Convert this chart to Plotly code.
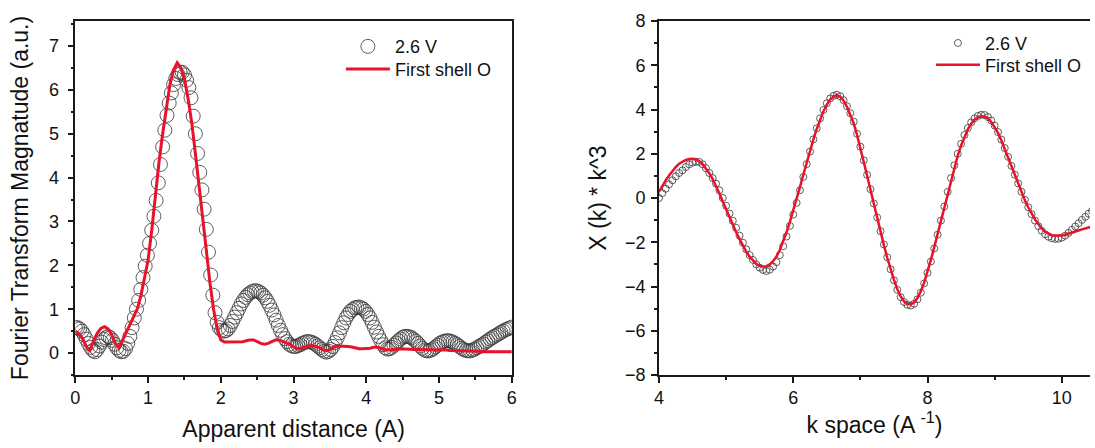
import numpy as np
import plotly.graph_objects as go

# ---------------- R-space (Fourier transform magnitude) ----------------
r_data = np.round(np.arange(201) * 0.03, 2)
ft_data = [
    0.58, 0.58, 0.55, 0.50, 0.42, 0.32, 0.22, 0.13, 0.06, 0.03,
    0.08, 0.16, 0.25, 0.31, 0.35, 0.38, 0.35, 0.29, 0.20, 0.12,
    0.06, 0.03, 0.04, 0.10, 0.22, 0.38, 0.58, 0.80, 1.00, 1.20,
    1.45, 1.72, 1.98, 2.23, 2.50, 2.80, 3.12, 3.48, 3.88, 4.30,
    4.70, 5.08, 5.42, 5.70, 5.93, 6.12, 6.26, 6.35, 6.40, 6.40,
    6.34, 6.22, 6.05, 5.82, 5.40, 5.00, 4.55, 4.12, 3.72, 3.28,
    2.82, 2.30, 1.78, 1.32, 0.92, 0.70, 0.58, 0.52, 0.50, 0.51,
    0.55, 0.63, 0.72, 0.82, 0.92, 1.02, 1.12, 1.20, 1.27, 1.33,
    1.37, 1.40, 1.42, 1.42, 1.40, 1.37, 1.32, 1.26, 1.18, 1.09,
    0.98, 0.87, 0.75, 0.63, 0.52, 0.42, 0.33, 0.26, 0.20, 0.17,
    0.15, 0.15, 0.17, 0.19, 0.22, 0.24, 0.26, 0.26, 0.25, 0.23,
    0.20, 0.16, 0.12, 0.08, 0.04, 0.02, 0.04, 0.08, 0.15, 0.24,
    0.35, 0.46, 0.58, 0.69, 0.80, 0.88, 0.95, 0.99, 1.03, 1.04,
    1.05, 1.03, 1.00, 0.95, 0.88, 0.80, 0.70, 0.59, 0.48, 0.38,
    0.28, 0.19, 0.12, 0.09, 0.10, 0.13, 0.18, 0.23, 0.28, 0.32,
    0.36, 0.38, 0.38, 0.37, 0.35, 0.31, 0.27, 0.22, 0.16, 0.11,
    0.07, 0.05, 0.05, 0.07, 0.10, 0.14, 0.18, 0.22, 0.25, 0.27,
    0.28, 0.28, 0.27, 0.25, 0.22, 0.19, 0.15, 0.11, 0.08, 0.06,
    0.05, 0.05, 0.07, 0.09, 0.12, 0.15, 0.18, 0.21, 0.25, 0.28,
    0.32, 0.35, 0.38, 0.41, 0.44, 0.47, 0.50, 0.53, 0.55, 0.57,
    0.59,
]

r_fit = np.round(np.arange(121) * 0.05, 2)
ft_fit = [
    0.50, 0.44, 0.33, 0.15, 0.06, 0.28, 0.45, 0.56, 0.60, 0.55,
    0.42, 0.22, 0.12, 0.30, 0.50, 0.66, 0.82, 1.00, 1.30, 1.68,
    2.12, 2.80, 3.60, 4.35, 5.00, 5.60, 6.12, 6.45, 6.62, 6.50,
    6.25, 5.80, 5.25, 4.55, 3.85, 3.10, 2.35, 1.60, 1.00, 0.55,
    0.30, 0.25, 0.25, 0.25, 0.26, 0.26, 0.26, 0.28, 0.30, 0.30,
    0.26, 0.22, 0.20, 0.22, 0.26, 0.30, 0.30, 0.27, 0.24, 0.20,
    0.14, 0.10, 0.10, 0.13, 0.16, 0.17, 0.15, 0.13, 0.08, 0.05,
    0.08, 0.14, 0.16, 0.16, 0.15, 0.15, 0.14, 0.12, 0.10, 0.10,
    0.10, 0.11, 0.13, 0.13, 0.11, 0.08, 0.07, 0.08, 0.09, 0.10,
    0.10, 0.09, 0.08, 0.08, 0.08, 0.08, 0.08, 0.07, 0.07, 0.07,
    0.07, 0.07, 0.07, 0.06, 0.05, 0.05, 0.05, 0.05, 0.04, 0.04,
    0.04, 0.04, 0.03, 0.03, 0.03, 0.03, 0.03, 0.03, 0.03, 0.03,
    0.03,
]

# ---------------- k-space (chi(k) * k^3) ----------------
k_grid = np.round(4.0 + np.arange(130) * 0.05, 2)
chi_data = [
    0.00, 0.22, 0.42, 0.62, 0.80, 0.98, 1.13, 1.25, 1.40, 1.52,
    1.60, 1.64, 1.63, 1.52, 1.35, 1.13, 0.90, 0.65, 0.35, 0.00,
    -0.35, -0.70, -1.03, -1.35, -1.70, -2.02, -2.32, -2.58, -2.80, -3.00,
    -3.15, -3.25, -3.30, -3.24, -3.10, -2.90, -2.58, -2.18, -1.74, -1.26,
    -0.75, -0.22, 0.35, 0.95, 1.53, 2.10, 2.65, 3.15, 3.60, 3.98,
    4.28, 4.50, 4.62, 4.67, 4.60, 4.42, 4.15, 3.83, 3.45, 2.90,
    2.32, 1.70, 1.05, 0.40, -0.25, -0.88, -1.50, -2.10, -2.68, -3.22,
    -3.72, -4.15, -4.48, -4.70, -4.83, -4.86, -4.78, -4.58, -4.28, -3.86,
    -3.38, -2.87, -2.28, -1.66, -1.02, -0.38, 0.28, 0.90, 1.48, 2.00,
    2.45, 2.85, 3.16, 3.42, 3.60, 3.71, 3.76, 3.75, 3.66, 3.50,
    3.27, 2.98, 2.64, 2.26, 1.86, 1.45, 1.05, 0.66, 0.28, -0.08,
    -0.42, -0.73, -1.02, -1.27, -1.48, -1.64, -1.75, -1.82, -1.85, -1.84,
    -1.79, -1.70, -1.58, -1.44, -1.29, -1.14, -0.99, -0.85, -0.71, -0.58,
]
chi_fit = [
    0.28, 0.55, 0.80, 1.02, 1.22, 1.40, 1.55, 1.65, 1.72, 1.76,
    1.77, 1.74, 1.66, 1.53, 1.35, 1.12, 0.85, 0.54, 0.20, -0.16,
    -0.52, -0.88, -1.22, -1.55, -1.86, -2.15, -2.42, -2.65, -2.84, -2.98,
    -3.07, -3.10, -3.08, -3.00, -2.86, -2.64, -2.35, -1.98, -1.55, -1.08,
    -0.58, -0.05, 0.50, 1.05, 1.60, 2.14, 2.65, 3.12, 3.55, 3.92,
    4.22, 4.45, 4.60, 4.65, 4.58, 4.40, 4.12, 3.78, 3.38, 2.85,
    2.28, 1.66, 1.02, 0.37, -0.28, -0.92, -1.54, -2.13, -2.70, -3.22,
    -3.70, -4.12, -4.45, -4.67, -4.79, -4.80, -4.72, -4.52, -4.22, -3.82,
    -3.33, -2.80, -2.22, -1.62, -1.00, -0.38, 0.24, 0.84, 1.40, 1.92,
    2.38, 2.78, 3.10, 3.36, 3.54, 3.65, 3.70, 3.69, 3.60, 3.44,
    3.22, 2.94, 2.60, 2.22, 1.82, 1.42, 1.02, 0.62, 0.24, -0.10,
    -0.42, -0.70, -0.96, -1.18, -1.38, -1.52, -1.62, -1.68, -1.70, -1.70,
    -1.69, -1.66, -1.62, -1.57, -1.52, -1.47, -1.42, -1.37, -1.33, -1.29,
]

FONT = "Arial, Liberation Sans, Helvetica, sans-serif"
RED = "rgb(232,18,42)"
CIRCLE = "rgba(55,55,55,0.8)"
W, H = 1095, 448
TOP, BOTTOM = 21, 72.5
PLOT_H = H - TOP - BOTTOM


def row_y(px):
    """Paper y for a pixel row measured from the top of the figure."""
    return 1 - (px - TOP) / PLOT_H


fig = go.Figure()

fig.add_trace(go.Scatter(
    x=r_data, y=ft_data, mode="markers", name="2.6 V",
    marker=dict(symbol="circle-open", size=14, color=CIRCLE, line=dict(width=1)),
    xaxis="x", yaxis="y", legend="legend",
))
fig.add_trace(go.Scatter(
    x=r_fit, y=ft_fit, mode="lines", name="First shell O",
    line=dict(color=RED, width=3),
    xaxis="x", yaxis="y", legend="legend2",
))
fig.add_trace(go.Scatter(
    x=k_grid, y=chi_data, mode="markers", name="2.6 V",
    marker=dict(symbol="circle-open", size=7, color=CIRCLE, line=dict(width=1)),
    xaxis="x2", yaxis="y2", legend="legend3",
))
fig.add_trace(go.Scatter(
    x=k_grid, y=chi_fit, mode="lines", name="First shell O",
    line=dict(color=RED, width=2.5),
    xaxis="x2", yaxis="y2", legend="legend4",
))

axis_common = dict(
    showline=True, linecolor="#1a1a1a", linewidth=1.5,
    ticks="outside", ticklen=6, tickwidth=1.5, tickcolor="#1a1a1a",
    showgrid=False, zeroline=False,
    tickfont=dict(family=FONT, size=18, color="#111"),
)
minor_style = dict(ticks="outside", ticklen=3, tickwidth=1.5, tickcolor="#1a1a1a")
title_font = dict(family=FONT, size=23, color="#111")


def legend_box(x_px, y_px):
    return dict(
        x=x_px / W, y=row_y(y_px), xanchor="left", yanchor="middle",
        bgcolor="rgba(0,0,0,0)", font=dict(family=FONT, size=18, color="#111"),
        itemwidth=44, itemclick=False,
    )


fig.update_layout(
    width=W, height=H,
    margin=dict(l=0, r=0, t=TOP, b=BOTTOM),
    paper_bgcolor="white", plot_bgcolor="white",
    font=dict(family=FONT, color="#111"),
    xaxis=dict(
        **axis_common, domain=[71 / W, 511.5 / W], range=[0, 6], dtick=1,
        mirror=True, anchor="y",
        minor=dict(dtick=0.5, **minor_style),
        title=dict(text="Apparent distance (A)", font=title_font, standoff=14),
    ),
    yaxis=dict(
        **axis_common, domain=[0, 1], range=[-0.5, 7.57], dtick=1,
        mirror=True, anchor="x", ticklabelstandoff=5,
        minor=dict(dtick=0.5, **minor_style),
        title=dict(text="Fourier Transform Magnatude (a.u.)", font=title_font, standoff=14),
    ),
    xaxis2=dict(
        **axis_common, domain=[660 / W, 1.0], range=[4, 10.42], dtick=2,
        mirror=True, anchor="y2",
        minor=dict(dtick=1, **minor_style),
        title=dict(text="k space (A <sup>-1</sup>)", font=title_font, standoff=6),
    ),
    yaxis2=dict(
        **axis_common, domain=[0, 1], range=[-8, 8], dtick=2,
        mirror=False, anchor="x2", ticklabelstandoff=2,
        minor=dict(dtick=1, **minor_style),
        title=dict(text="Χ (k) * k^3", font=title_font, standoff=12),
    ),
    legend=legend_box(339, 46.7),
    legend2=legend_box(339, 69.3),
    legend3=legend_box(934.5, 43.3),
    legend4=legend_box(934.5, 65.0),
    showlegend=True,
)

fig.write_html("out.html")
